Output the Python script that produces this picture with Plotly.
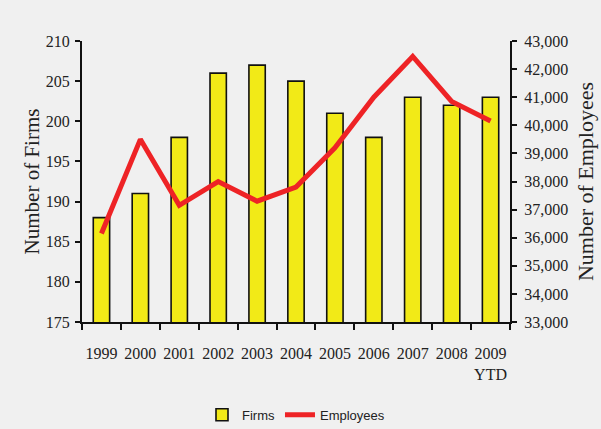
import plotly.graph_objects as go

years = ["1999", "2000", "2001", "2002", "2003", "2004", "2005", "2006", "2007", "2008", "2009<br>YTD"]
firms = [188, 191, 198, 206, 207, 205, 201, 198, 203, 202, 203]
employees = [36150, 39500, 37150, 38000, 37300, 37800, 39200, 41000, 42450, 40850, 40150]

firm_ticks = [175, 180, 185, 190, 195, 200, 205, 210]
emp_ticks = [33000, 34000, 35000, 36000, 37000, 38000, 39000, 40000, 41000, 42000, 43000]

serif = "Liberation Serif, Times New Roman, serif"
sans = "Liberation Sans, Arial, sans-serif"
bg = "#f0f0f0"

fig = go.Figure()
fig.add_trace(go.Bar(
    x=years, y=firms, name="Firms", width=0.42,
    marker=dict(color="#f2ea17", line=dict(color="#111111", width=1.6)),
    yaxis="y", xaxis="x",
))
fig.add_trace(go.Scatter(
    x=years, y=employees, name="Employees", mode="lines",
    line=dict(color="#ee2326", width=5), yaxis="y2", xaxis="x",
))

boundaries = [i - 0.5 for i in range(len(years) + 1)]

fig.update_layout(
    width=601, height=429,
    paper_bgcolor=bg, plot_bgcolor=bg,
    margin=dict(l=82, r=91, t=41, b=107, autoexpand=False),
    showlegend=True,
    legend=dict(orientation="h", x=0.5, xanchor="center", y=-0.33, yanchor="middle",
                font=dict(family=sans, size=13, color="#222222"),
                bgcolor="rgba(0,0,0,0)", itemwidth=30, tracegroupgap=0),
    xaxis=dict(
        type="category", range=[-0.5, len(years) - 0.5], automargin=False, tickangle=0,
        tickson="boundaries", ticks="outside", ticklen=6, tickwidth=2, tickcolor="#111111",
        showline=True, linecolor="#111111", linewidth=2, showgrid=False, zeroline=False,
        tickfont=dict(family=serif, size=16, color="#222222"), ticklabelstandoff=16,
    ),
    xaxis2=dict(
        overlaying="x", anchor="y", type="linear", range=[-0.5, len(years) - 0.5], automargin=False,
        tickmode="array", tickvals=boundaries, ticks="inside", ticklen=6, tickwidth=2,
        tickcolor="#111111", showticklabels=False, showgrid=False, zeroline=False, showline=False,
    ),
    yaxis=dict(
        range=[175, 210], tickmode="array", tickvals=firm_ticks, automargin=False,
        ticks="outside", ticklen=5, tickwidth=2, tickcolor="#111111",
        showline=True, linecolor="#111111", linewidth=2, showgrid=False, zeroline=False,
        tickfont=dict(family=serif, size=16, color="#222222"), ticklabelstandoff=2,
        title=dict(text="Number of Firms", font=dict(family=serif, size=21, color="#222222"), standoff=0),
    ),
    yaxis2=dict(
        range=[33000, 43000], tickmode="array", tickvals=emp_ticks, tickformat=",",
        overlaying="y", side="right", anchor="x", automargin=False,
        ticks="outside", ticklen=5, tickwidth=2, tickcolor="#111111",
        showline=True, linecolor="#111111", linewidth=2, showgrid=False, zeroline=False,
        tickfont=dict(family=serif, size=16, color="#222222"), ticklabelstandoff=4,
        title=dict(text="Number of Employees", font=dict(family=serif, size=22, color="#222222"), standoff=10),
    ),
    yaxis3=dict(
        range=[175, 210], overlaying="y", side="left", anchor="x", tickmode="array", tickvals=firm_ticks,
        ticks="inside", ticklen=5, tickwidth=2, tickcolor="#111111", automargin=False,
        showticklabels=False, showgrid=False, zeroline=False, showline=False,
    ),
    yaxis4=dict(
        range=[33000, 43000], overlaying="y", side="right", anchor="x", tickmode="array", tickvals=emp_ticks,
        ticks="inside", ticklen=5, tickwidth=2, tickcolor="#111111", automargin=False,
        showticklabels=False, showgrid=False, zeroline=False, showline=False,
    ),
)

fig.write_html("out.html", config={"displayModeBar": False},
               post_script="document.body.style.margin='0';document.body.style.overflow='hidden';")
